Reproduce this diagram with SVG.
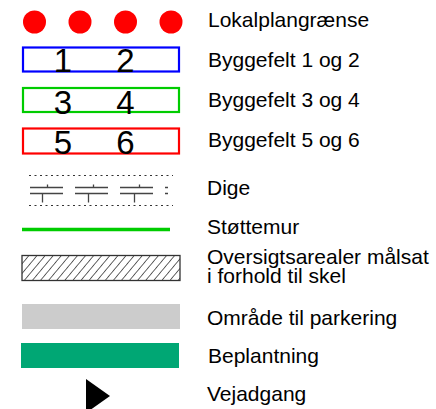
<svg xmlns="http://www.w3.org/2000/svg" width="436" height="409" viewBox="0 0 436 409">
  <style>
    .lbl { font-family: "Liberation Sans", Arial, sans-serif; font-size: 21px; fill: #000; }
    .num { font-family: "Liberation Sans", Arial, sans-serif; font-size: 33px; fill: #000; text-anchor: middle; }
    .box { fill: none; stroke-width: 2.2; }
    .dash { stroke: #333; stroke-width: 1.2; stroke-dasharray: 2 3.5; fill: none; }
    .dbl { stroke: #444; stroke-width: 1.3; fill: none; }
  </style>
  <defs>
    <pattern id="hatch" patternUnits="userSpaceOnUse" width="6.2" height="8" patternTransform="rotate(40)">
      <line x1="0" y1="0" x2="0" y2="8" stroke="#000" stroke-width="1.2"/>
    </pattern>
  </defs>
  <rect width="436" height="409" fill="#fff"/>

  <!-- boundary dots -->
  <g id="lokalplan">
    <circle cx="34.5" cy="22" r="11.5" fill="#ff0000"/>
    <circle cx="80" cy="22" r="11.5" fill="#ff0000"/>
    <circle cx="125.5" cy="22" r="11.5" fill="#ff0000"/>
    <circle cx="171" cy="22" r="11.5" fill="#ff0000"/>
    <text class="lbl" x="208" y="27">Lokalplangrænse</text>
  </g>

  <g id="felt12">
    <rect class="box" x="23" y="47.5" width="156" height="24" stroke="#0000ff"/>
    <text class="num" x="63" y="72">1</text>
    <text class="num" x="125.5" y="72">2</text>
    <text class="lbl" x="208" y="67">Byggefelt 1 og 2</text>
  </g>

  <g id="felt34">
    <rect class="box" x="23" y="88" width="156" height="24" stroke="#00cc00"/>
    <text class="num" x="63" y="113.5">3</text>
    <text class="num" x="125.5" y="113.5">4</text>
    <text class="lbl" x="208" y="107">Byggefelt 3 og 4</text>
  </g>

  <g id="felt56">
    <rect class="box" x="23" y="128.5" width="156" height="25" stroke="#ff0000"/>
    <text class="num" x="63" y="154">5</text>
    <text class="num" x="125.5" y="154">6</text>
    <text class="lbl" x="208" y="146.5">Byggefelt 5 og 6</text>
  </g>

  <!-- dike symbol -->
  <g id="dige">
    <line class="dash" x1="29" y1="175.5" x2="173" y2="175.5"/>
    <line class="dash" x1="29" y1="205.5" x2="173" y2="205.5"/>
    <line class="dbl" x1="30" y1="187.5" x2="168" y2="187.5" stroke-dasharray="33 12"/>
    <line class="dbl" x1="30" y1="193.5" x2="168" y2="193.5" stroke-dasharray="33 12"/>
    <path class="dbl" d="M47.5 184.5V187.5M42.5 193.5V202.5M93.5 184.5V187.5M88.5 193.5V202.5M139.5 184.5V187.5M134.5 193.5V202.5"/>
    <text class="lbl" x="207" y="195">Dige</text>
  </g>

  <g id="stottemur">
    <line x1="22" y1="229.5" x2="170" y2="229.5" stroke="#00cc00" stroke-width="3.5"/>
    <text class="lbl" x="207" y="234">Støttemur</text>
  </g>

  <g id="oversigt">
    <rect x="22" y="255.5" width="158" height="25" fill="url(#hatch)" stroke="#333" stroke-width="1.3"/>
    <text class="lbl" x="207" y="264">Oversigtsarealer målsat</text>
    <text class="lbl" x="207" y="283">i forhold til skel</text>
  </g>

  <g id="parkering">
    <rect x="22" y="304" width="158" height="25" fill="#cccccc"/>
    <text class="lbl" x="207" y="325">Område til parkering</text>
  </g>

  <g id="beplantning">
    <rect x="21" y="343" width="158" height="25" fill="#00a774"/>
    <text class="lbl" x="208" y="363">Beplantning</text>
  </g>

  <g id="vejadgang">
    <polygon points="86,379 110,396 86,413" fill="#000"/>
    <text class="lbl" x="207" y="401">Vejadgang</text>
  </g>

  <g id="connectors"></g>
</svg>
